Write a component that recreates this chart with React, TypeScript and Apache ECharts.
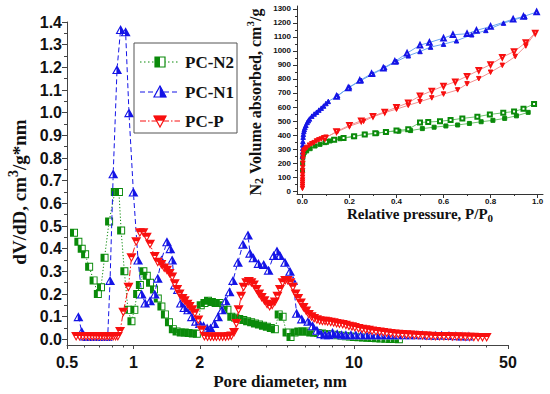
import React, { useEffect, useRef } from 'react';
import * as echarts from 'echarts';

// ---------------- Main chart: pore size distribution ----------------
const n2Diameter = [0.538, 0.563, 0.583, 0.604, 0.63, 0.66, 0.69, 0.713, 0.74, 0.776, 0.824, 0.86, 0.88, 0.91, 0.945, 0.98, 1.01, 1.04, 1.07, 1.11, 1.15, 1.19, 1.24, 1.29, 1.34, 1.39, 1.45, 1.51, 1.57, 1.64, 1.71, 1.78, 1.86, 1.94, 2.02, 2.1, 2.18, 2.27, 2.36, 2.46, 2.56, 2.67, 2.78, 2.9, 3.02, 3.15, 3.28, 3.42, 3.56, 3.71, 3.87, 4.03, 4.2, 4.38, 4.56, 4.75, 4.95, 5.16, 5.38, 5.6, 5.84, 6.08, 6.34, 6.6, 6.88, 7.17, 7.47, 7.78, 8.1, 8.45, 8.8, 9.2, 9.6, 10, 10.5, 11, 11.5, 12, 12.6, 13.2, 13.9, 14.6, 15.3, 16];
const n2DvDd = [0.47, 0.43, 0.40, 0.375, 0.32, 0.26, 0.20, 0.23, 0.36, 0.52, 0.65, 0.65, 0.48, 0.30, 0.13, 0.08, 0.13, 0.20, 0.24, 0.30, 0.28, 0.25, 0.22, 0.18, 0.145, 0.11, 0.075, 0.045, 0.035, 0.03, 0.03, 0.028, 0.026, 0.025, 0.15, 0.16, 0.17, 0.165, 0.16, 0.16, 0.15, 0.13, 0.10, 0.095, 0.09, 0.085, 0.08, 0.075, 0.07, 0.065, 0.06, 0.055, 0.05, 0.045, 0.11, 0.10, 0.03, 0.01, 0.03, 0.035, 0.035, 0.035, 0.03, 0.03, 0.028, 0.026, 0.024, 0.022, 0.02, 0.018, 0.016, 0.014, 0.012, 0.01, 0.009, 0.008, 0.007, 0.006, 0.005, 0.004, 0.003, 0.002, 0.001, 0.0];

const n1Diameter = [0.563, 0.583, 0.6, 0.615, 0.63, 0.645, 0.66, 0.675, 0.69, 0.705, 0.72, 0.735, 0.75, 0.765, 0.784, 0.81, 0.843, 0.875, 0.922, 0.955, 1.0, 1.05, 1.09, 1.13, 1.19, 1.25, 1.29, 1.34, 1.42, 1.47, 1.5, 1.54, 1.59, 1.64, 1.7, 1.77, 1.84, 1.92, 2.0, 2.08, 2.16, 2.24, 2.33, 2.42, 2.52, 2.62, 2.73, 2.83, 2.98, 3.14, 3.31, 3.38, 3.5, 3.69, 3.9, 4.1, 4.33, 4.48, 4.62, 4.87, 5.13, 5.3, 5.5, 5.8, 6.2, 6.5, 6.8, 7.1, 7.4, 7.7, 8.0, 8.4, 8.8, 9.2, 9.7, 10.2, 10.8, 11.4, 12, 12.7, 13.4, 14.2, 15, 16, 17, 18, 19.2, 20.5, 22, 23.5, 25, 27, 29, 31, 33];
const n1DvDd = [0.10, 0.035, 0.015, 0.012, 0.012, 0.012, 0.012, 0.012, 0.012, 0.012, 0.012, 0.012, 0.012, 0.013, 0.26, 0.73, 1.19, 1.367, 1.357, 1.0, 0.65, 0.35, 0.20, 0.16, 0.17, 0.20, 0.27, 0.35, 0.43, 0.40, 0.35, 0.24, 0.22, 0.16, 0.14, 0.13, 0.10, 0.08, 0.07, 0.06, 0.05, 0.05, 0.07, 0.10, 0.13, 0.17, 0.21, 0.26, 0.34, 0.42, 0.46, 0.38, 0.36, 0.335, 0.33, 0.305, 0.37, 0.39, 0.37, 0.34, 0.30, 0.26, 0.115, 0.09, 0.08, 0.06, 0.04, 0.025, 0.02, 0.02, 0.03, 0.025, 0.02, 0.02, 0.02, 0.02, 0.02, 0.02, 0.02, 0.02, 0.02, 0.02, 0.02, 0.02, 0.02, 0.02, 0.02, 0.02, 0.018, 0.018, 0.018, 0.017, 0.016, 0.015, 0.015];

const pDiameter = [0.55, 0.57, 0.59, 0.61, 0.63, 0.65, 0.67, 0.69, 0.71, 0.73, 0.75, 0.77, 0.79, 0.81, 0.83, 0.85, 0.87, 0.9, 0.95, 0.98, 1.03, 1.07, 1.11, 1.15, 1.19, 1.25, 1.29, 1.34, 1.38, 1.42, 1.46, 1.5, 1.54, 1.58, 1.62, 1.67, 1.71, 1.76, 1.8, 1.85, 1.9, 1.97, 2.04, 2.1, 2.17, 2.24, 2.31, 2.38, 2.46, 2.54, 2.62, 2.7, 2.78, 2.86, 2.93, 3.0, 3.08, 3.16, 3.25, 3.34, 3.43, 3.52, 3.62, 3.72, 3.82, 3.93, 4.04, 4.15, 4.26, 4.38, 4.5, 4.62, 4.75, 4.88, 5.01, 5.15, 5.29, 5.44, 5.59, 5.75, 5.91, 6.08, 6.25, 6.43, 6.6, 6.8, 7.0, 7.2, 7.4, 7.6, 7.85, 8.1, 8.35, 8.6, 8.9, 9.2, 9.5, 9.8, 10.1, 10.5, 10.9, 11.3, 11.7, 12.1, 12.6, 13.1, 13.6, 14.1, 14.7, 15.3, 15.9, 16.6, 17.3, 18, 18.8, 19.6, 20.5, 21.4, 22.4, 23.4, 24.5, 25.6, 26.8, 28, 29.3, 30.6, 32, 33.5, 35, 36.6, 38.3, 40];
const pDvDd = [0.012, 0.012, 0.012, 0.012, 0.012, 0.012, 0.012, 0.012, 0.012, 0.012, 0.012, 0.012, 0.012, 0.012, 0.012, 0.012, 0.035, 0.12, 0.23, 0.36, 0.43, 0.47, 0.47, 0.45, 0.42, 0.365, 0.34, 0.33, 0.315, 0.305, 0.29, 0.275, 0.245, 0.22, 0.20, 0.18, 0.17, 0.155, 0.145, 0.13, 0.115, 0.085, 0.04, 0.012, 0.01, 0.01, 0.01, 0.01, 0.01, 0.01, 0.01, 0.012, 0.015, 0.03, 0.07, 0.13, 0.19, 0.23, 0.25, 0.255, 0.25, 0.24, 0.22, 0.20, 0.185, 0.17, 0.155, 0.145, 0.15, 0.165, 0.19, 0.22, 0.25, 0.26, 0.26, 0.25, 0.23, 0.2, 0.18, 0.16, 0.14, 0.125, 0.11, 0.1, 0.092, 0.086, 0.082, 0.08, 0.08, 0.078, 0.075, 0.073, 0.07, 0.068, 0.065, 0.062, 0.058, 0.055, 0.052, 0.048, 0.045, 0.042, 0.04, 0.037, 0.035, 0.032, 0.03, 0.028, 0.026, 0.024, 0.022, 0.021, 0.02, 0.019, 0.018, 0.017, 0.016, 0.015, 0.014, 0.013, 0.013, 0.012, 0.012, 0.011, 0.011, 0.01, 0.01, 0.009, 0.009, 0.008, 0.008, 0.008];

// ---------------- Inset: N2 isotherms ----------------
const n1AdsP = [0.0003, 0.0006, 0.001, 0.0015, 0.002, 0.003, 0.004, 0.006, 0.008, 0.011, 0.015, 0.02, 0.025, 0.03, 0.04, 0.05, 0.06, 0.07, 0.08, 0.09, 0.1, 0.11, 0.15, 0.2, 0.25, 0.3, 0.35, 0.4, 0.45, 0.5, 0.545, 0.6, 0.655, 0.72, 0.78, 0.855, 0.946];
const n1AdsV = [250, 280, 305, 330, 355, 385, 405, 425, 440, 455, 470, 490, 502, 515, 535, 550, 563, 578, 592, 607, 625, 640, 680, 742, 790, 835, 880, 925, 965, 996, 1027, 1048, 1072, 1115, 1146, 1198, 1245];
const n1DesP = [0.996, 0.94, 0.896, 0.80, 0.74, 0.70, 0.64, 0.60, 0.54, 0.50, 0.445, 0.393, 0.344, 0.294, 0.244, 0.195, 0.145];
const n1DesV = [1277, 1245, 1226, 1174, 1146, 1122, 1115, 1091, 1060, 1041, 984, 924, 877, 837, 789, 735, 675];

const pAdsP = [0.0002, 0.0003, 0.0004, 0.0005, 0.0006, 0.0008, 0.001, 0.0012, 0.0015, 0.002, 0.0025, 0.003, 0.004, 0.006, 0.01, 0.015, 0.02, 0.03, 0.04, 0.05, 0.06, 0.07, 0.08, 0.09, 0.1, 0.15, 0.2, 0.26, 0.3, 0.35, 0.4, 0.45, 0.5, 0.55, 0.6, 0.66, 0.7, 0.75, 0.8, 0.85, 0.905, 0.95, 0.99];
const pAdsV = [20, 35, 50, 65, 80, 100, 120, 145, 170, 200, 230, 255, 275, 288, 296, 305, 312, 328, 338, 346, 358, 366, 372, 378, 385, 425, 463, 498, 530, 560, 585, 612, 638, 665, 692, 722, 765, 802, 848, 897, 960, 1035, 1128];
const pDesP = [0.99, 0.95, 0.9, 0.85, 0.8, 0.75, 0.7, 0.65, 0.6, 0.55, 0.5, 0.45, 0.4, 0.35, 0.3, 0.25, 0.2, 0.145, 0.096];
const pDesV = [1128, 1060, 995, 955, 903, 862, 820, 780, 750, 715, 680, 630, 598, 565, 535, 502, 470, 425, 378];

const n2AdsP = [0.0005, 0.001, 0.002, 0.004, 0.008, 0.018, 0.033, 0.054, 0.075, 0.096, 0.118, 0.16, 0.217, 0.266, 0.316, 0.358, 0.41, 0.46, 0.51, 0.56, 0.61, 0.66, 0.71, 0.76, 0.81, 0.86, 0.91, 0.96];
const n2AdsV = [150, 200, 240, 262, 275, 287, 303, 322, 334, 346, 358, 374, 389, 405, 412, 424, 428, 432, 446, 456, 465, 472, 483, 495, 505, 519, 537, 562];
const n2DesP = [0.985, 0.94, 0.9, 0.854, 0.797, 0.744, 0.68, 0.63, 0.585, 0.535, 0.5, 0.45, 0.4, 0.355, 0.31, 0.265, 0.22, 0.175, 0.135, 0.1];
const n2DesV = [622, 588, 568, 559, 547, 531, 519, 507, 498, 493, 490, 441, 432, 422, 413, 404, 392, 380, 366, 352];

// ---------------- Tick values ----------------
const mainXLabels = [0.5, 1, 2, 10, 50];
const mainXMinor = [0.6, 0.7, 0.8, 0.9, 3, 4, 5, 6, 7, 8, 9, 20, 30, 40];
const mainYLabels = [0, 0.1, 0.2, 0.3, 0.4, 0.5, 0.6, 0.7, 0.8, 0.9, 1.0, 1.1, 1.2, 1.3, 1.4];
const mainYMinor = [0.05, 0.15, 0.25, 0.35, 0.45, 0.55, 0.65, 0.75, 0.85, 0.95, 1.05, 1.15, 1.25, 1.35];
const insetXLabels = [0, 0.2, 0.4, 0.6, 0.8, 1.0];
const insetXMinor = [0.1, 0.3, 0.5, 0.7, 0.9];
const insetYLabels = [0, 100, 200, 300, 400, 500, 600, 700, 800, 900, 1000, 1100, 1200, 1300];
const insetYMinor = [50, 150, 250, 350, 450, 550, 650, 750, 850, 950, 1050, 1150, 1250];

const seriesNames = ['PC-N2', 'PC-N1', 'PC-P'];

const GREEN = '#0a8a0a';
const BLUE = '#1414e6';
const RED = '#f80f0f';
const AXIS = '#444';
const SERIF = '"Liberation Serif", "Times New Roman", serif';
const SANS = '"Liberation Sans", Arial, sans-serif';

const SQ_FULL = 'path://M0 0H10V10H0Z';
const SQ_HALF = 'path://M0 0H10V10H0Z M5 1.2V8.8H8.8V1.2Z';
const UP_FULL = 'path://M5 0L10 9L0 9Z';
const UP_HALF = 'path://M5 0L10 9L0 9Z M4.4 3.3L1.9 7.9L4.4 7.9Z';
const DN_FULL = 'path://M0 0L10 0L5 9Z';
const DN_HALF = 'path://M0 0L10 0L5 9Z M3.48 4L5 6.74L6.52 4Z';

const zip = (xs: number[], ys: number[]) => xs.map((x, i) => [x, ys[i]]);

function mainPair(name: string, xs: number[], ys: number[], color: string, dash: number[], full: string, half: string, size: number[], z: number) {
  const data = zip(xs, ys);
  return [
    {
      type: 'line', name, xAxisIndex: 0, yAxisIndex: 0, data, z,
      symbol: full, symbolSize: size, showAllSymbol: true,
      itemStyle: { color: '#fff', borderWidth: 0, opacity: 1 },
      lineStyle: { color, width: 1, type: dash },
      silent: true,
    },
    {
      type: 'scatter', name: name + ' marks', xAxisIndex: 0, yAxisIndex: 0, data, z: z + 1,
      symbol: half, symbolSize: size,
      itemStyle: { color, borderWidth: 0, opacity: 1 },
      silent: true,
    },
  ];
}

function insetSeries(name: string, xs: number[], ys: number[], color: string, lineColor: string, symbol: string, size: number, z: number, rotate = 0) {
  return {
    type: 'line', name, xAxisIndex: 2, yAxisIndex: 2, data: zip(xs, ys), z,
    symbol, symbolSize: size, symbolRotate: rotate, showAllSymbol: true,
    itemStyle: { color, borderColor: color, borderWidth: 1 },
    lineStyle: { color: lineColor, width: 1 },
    silent: true,
  };
}

const tickLabel = (size: number) => ({ fontSize: size, fontWeight: 'bold' as const, fontFamily: SANS, color: '#111' });

function buildLegend() {
  const els: any[] = [
    { type: 'rect', z: 100, shape: { x: 134, y: 43, width: 103, height: 90 }, style: { fill: '#fff', stroke: '#555', lineWidth: 1 } },
  ];
  const rows = [
    { color: GREEN, dash: [1.5, 2.5], y: 62, kind: 'sq' },
    { color: BLUE, dash: [5, 3], y: 92, kind: 'up' },
    { color: RED, dash: [6, 2, 1.5, 2], y: 121, kind: 'dn' },
  ];
  rows.forEach((r, i) => {
    const y = r.y;
    els.push({ type: 'line', z: 101, shape: { x1: 140, y1: y, x2: 180, y2: y }, style: { stroke: r.color, lineWidth: 1, lineDash: r.dash } });
    if (r.kind === 'sq') {
      els.push({ type: 'rect', z: 102, shape: { x: 155, y: y - 5, width: 10, height: 10 }, style: { fill: '#fff', stroke: r.color, lineWidth: 1.2 } });
      els.push({ type: 'rect', z: 103, shape: { x: 155, y: y - 5, width: 5, height: 10 }, style: { fill: r.color } });
    } else if (r.kind === 'up') {
      els.push({ type: 'polygon', z: 102, shape: { points: [[160, y - 6], [166, y + 5], [154, y + 5]] }, style: { fill: '#fff', stroke: r.color, lineWidth: 1.2 } });
      els.push({ type: 'polygon', z: 103, shape: { points: [[160, y - 6], [166, y + 5], [160, y + 5]] }, style: { fill: r.color, stroke: r.color, lineWidth: 0.5 } });
    } else {
      els.push({ type: 'polygon', z: 102, shape: { points: [[154, y - 5], [166, y - 5], [160, y + 6]] }, style: { fill: '#fff', stroke: r.color, lineWidth: 1.2 } });
      els.push({ type: 'polygon', z: 103, shape: { points: [[154, y - 5], [166, y - 5], [163.6, y - 0.6], [156.4, y - 0.6]] }, style: { fill: r.color, stroke: r.color, lineWidth: 0.5 } });
    }
    els.push({
      type: 'text', z: 104, x: 185, y,
      style: { text: seriesNames[i], fontSize: 17, fontWeight: 'bold', fontFamily: SERIF, fill: '#111', align: 'left', verticalAlign: 'middle', textAlign: 'left', textVerticalAlign: 'middle' },
    });
  });
  return els;
}

function titles() {
  const base = { fontFamily: SERIF, fontWeight: 'bold', fill: '#111' };
  return [
    {
      type: 'text', z: 50, x: 280, y: 381,
      style: { text: 'Pore diameter, nm', ...base, fontSize: 17, align: 'center', verticalAlign: 'middle', textAlign: 'center', textVerticalAlign: 'middle' },
    },
    {
      type: 'text', z: 50, x: 19, y: 192, rotation: Math.PI / 2,
      style: {
        text: '{a|dV/dD, cm}{s|3}{a|/g*nm}', align: 'center', verticalAlign: 'middle', textAlign: 'center', textVerticalAlign: 'middle',
        rich: { a: { ...base, fontSize: 19 }, s: { ...base, fontSize: 14, padding: [0, 0, 12, 0] } },
      },
    },
    {
      type: 'text', z: 50, x: 420, y: 214,
      style: {
        text: '{a|Relative pressure, P/P}{b|0}', align: 'center', verticalAlign: 'middle', textAlign: 'center', textVerticalAlign: 'middle',
        rich: { a: { ...base, fontSize: 15 }, b: { ...base, fontSize: 11, padding: [8, 0, 0, 0] } },
      },
    },
    {
      type: 'text', z: 50, x: 255, y: 102, rotation: Math.PI / 2,
      style: {
        text: '{a|N}{b|2}{a| Volume absorbed, cm}{s|3}{a|/g}', align: 'center', verticalAlign: 'middle', textAlign: 'center', textVerticalAlign: 'middle',
        rich: {
          a: { ...base, fontSize: 16 },
          b: { ...base, fontSize: 12, padding: [8, 0, 0, 0] },
          s: { ...base, fontSize: 11, padding: [0, 0, 10, 0] },
        },
      },
    },
  ];
}

const option: any = {
  animation: false,
  backgroundColor: '#fff',
  grid: [
    { left: 67, top: 22, width: 441, height: 323 },
    { left: 297, top: 6, width: 246, height: 188 },
  ],
  xAxis: [
    {
      gridIndex: 0, type: 'log', logBase: 10, min: 0.5, max: 50, position: 'bottom',
      axisLine: { show: true, onZero: false, lineStyle: { color: AXIS, width: 1 } },
      axisTick: { show: true, customValues: mainXLabels, length: 4, lineStyle: { color: AXIS } },
      axisLabel: { show: true, customValues: mainXLabels, margin: 9, formatter: (v: number) => String(+Number(v).toPrecision(3)), ...tickLabel(16) },
      splitLine: { show: false }, minorTick: { show: false },
    },
    {
      gridIndex: 0, type: 'log', logBase: 10, min: 0.5, max: 50, position: 'bottom',
      axisLine: { show: false, onZero: false },
      axisTick: { show: true, customValues: mainXMinor, length: 2.5, lineStyle: { color: AXIS } },
      axisLabel: { show: false }, splitLine: { show: false },
    },
    {
      gridIndex: 1, type: 'value', min: -0.023, max: 1.023, position: 'bottom',
      axisLine: { show: true, onZero: false, lineStyle: { color: '#333', width: 1 } },
      axisTick: { show: true, customValues: insetXLabels, length: 4, lineStyle: { color: '#333' } },
      axisLabel: { show: true, customValues: insetXLabels, margin: 3, formatter: (v: number) => Number(v).toFixed(1), ...tickLabel(8) },
      splitLine: { show: false },
    },
    {
      gridIndex: 1, type: 'value', min: -0.023, max: 1.023, position: 'bottom',
      axisLine: { show: false, onZero: false },
      axisTick: { show: true, customValues: insetXMinor, length: 2, lineStyle: { color: '#333' } },
      axisLabel: { show: false }, splitLine: { show: false },
    },
  ],
  yAxis: [
    {
      gridIndex: 0, type: 'value', min: -0.025, max: 1.4, position: 'left',
      axisLine: { show: true, onZero: false, lineStyle: { color: AXIS, width: 1 } },
      axisTick: { show: true, customValues: mainYLabels, length: 5, lineStyle: { color: AXIS } },
      axisLabel: { show: true, customValues: mainYLabels, margin: 5, formatter: (v: number) => Number(v).toFixed(1), ...tickLabel(16) },
      splitLine: { show: false },
    },
    {
      gridIndex: 0, type: 'value', min: -0.025, max: 1.4, position: 'left',
      axisLine: { show: false, onZero: false },
      axisTick: { show: true, customValues: mainYMinor, length: 3, lineStyle: { color: AXIS } },
      axisLabel: { show: false }, splitLine: { show: false },
    },
    {
      gridIndex: 1, type: 'value', min: -20, max: 1320, position: 'left',
      axisLine: { show: true, onZero: false, lineStyle: { color: '#333', width: 1 } },
      axisTick: { show: true, customValues: insetYLabels, length: 4, lineStyle: { color: '#333' } },
      axisLabel: { show: true, customValues: insetYLabels, margin: 6, formatter: (v: number) => String(Math.round(v)), ...tickLabel(8) },
      splitLine: { show: false },
    },
    {
      gridIndex: 1, type: 'value', min: -20, max: 1320, position: 'left',
      axisLine: { show: false, onZero: false },
      axisTick: { show: true, customValues: insetYMinor, length: 2, lineStyle: { color: '#333' } },
      axisLabel: { show: false }, splitLine: { show: false },
    },
  ],
  series: [
    ...mainPair('PC-N2', n2Diameter, n2DvDd, GREEN, [1.2, 2], SQ_FULL, SQ_HALF, [8, 8], 2),
    ...mainPair('PC-N1', n1Diameter, n1DvDd, BLUE, [5, 3], UP_FULL, UP_HALF, [10, 9], 4),
    ...mainPair('PC-P', pDiameter, pDvDd, RED, [6, 2, 1.5, 2], DN_FULL, DN_HALF, [10, 9], 6),
    insetSeries('PC-N2 ads', n2AdsP, n2AdsV, GREEN, '#6cc46c', 'rect', 4, 10),
    insetSeries('PC-N2 des', n2DesP, n2DesV, GREEN, '#6cc46c', 'emptyRect', 4, 10),
    insetSeries('PC-N1 ads', n1AdsP, n1AdsV, BLUE, '#6aa6f0', 'triangle', 4.5, 11),
    insetSeries('PC-N1 des', n1DesP, n1DesV, BLUE, '#6aa6f0', 'emptyTriangle', 4.5, 11),
    insetSeries('PC-P ads', pAdsP, pAdsV, RED, '#f39090', 'triangle', 4.5, 12, 180),
    insetSeries('PC-P des', pDesP, pDesV, RED, '#f39090', 'emptyTriangle', 4.5, 12, 180),
  ],
  graphic: { elements: [...buildLegend(), ...titles()] },
};

export default function App() {
  const ref = useRef<HTMLDivElement>(null);
  useEffect(() => {
    if (!ref.current) return;
    const chart = echarts.init(ref.current, undefined, { renderer: 'svg' });
    chart.setOption(option);
    return () => chart.dispose();
  }, []);
  return <div ref={ref} style={{ position: 'fixed', left: 0, top: 0, width: 550, height: 394, background: '#fff' }} />;
}
